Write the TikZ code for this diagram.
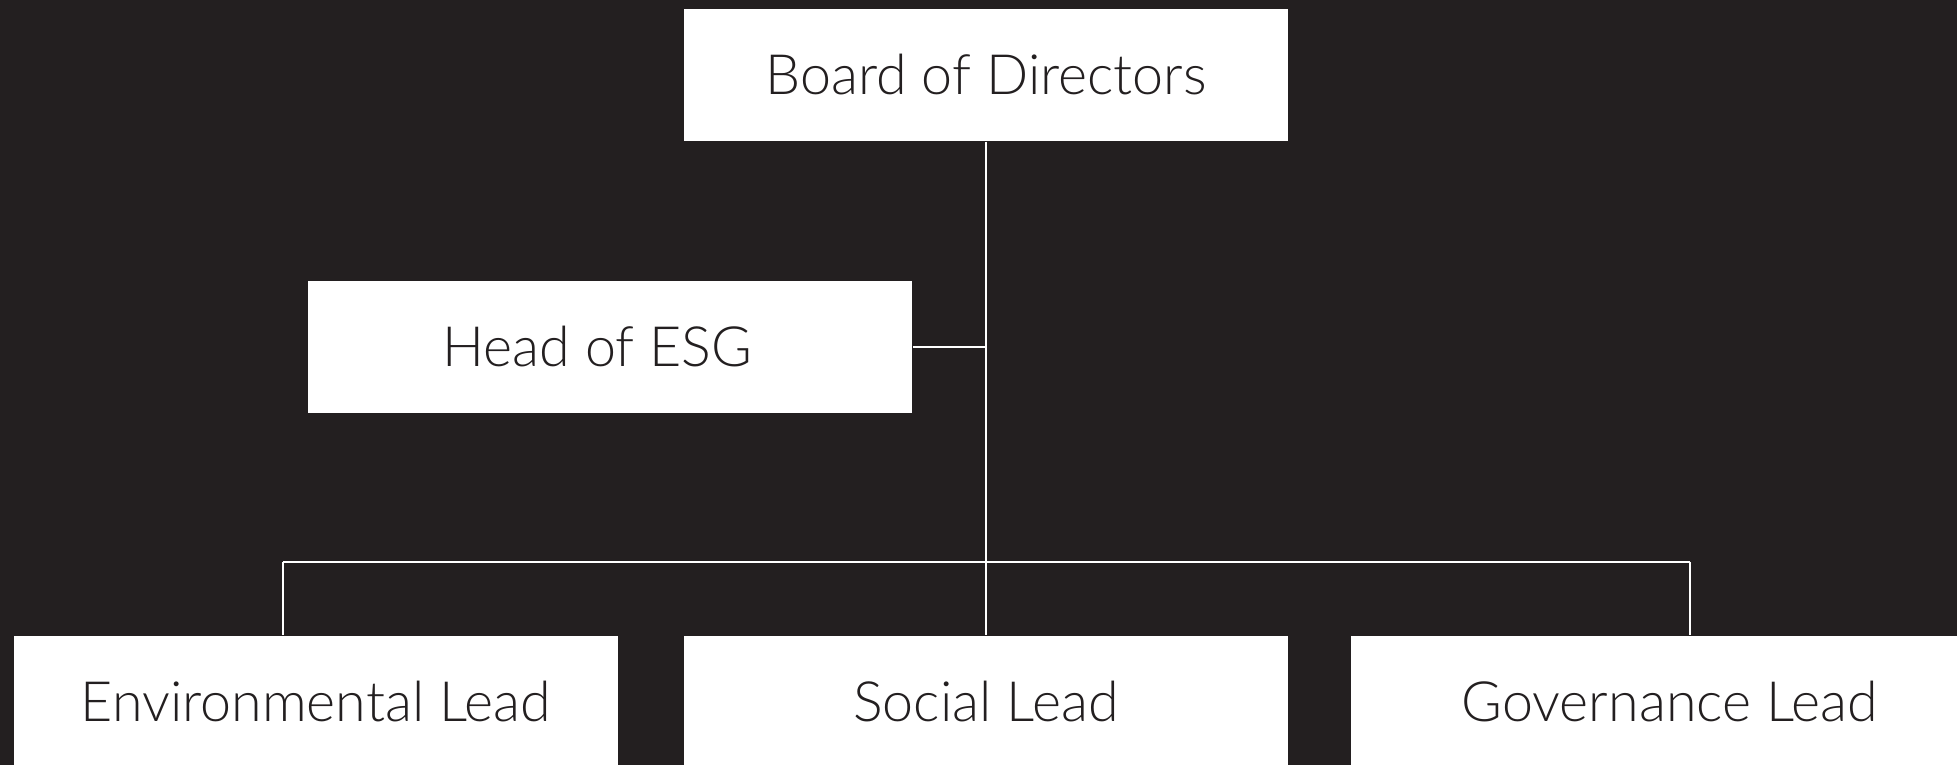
\documentclass[tikz,border=0pt]{standalone}
\usepackage{fontspec}
\setmainfont{Lato}[UprightFont=* Light]
\definecolor{bg}{HTML}{231F20}
\tikzset{box/.style={fill=white,text=bg,minimum width=6.04cm,minimum height=1.32cm,inner sep=0pt,font=\fontsize{15.8}{18}\selectfont},
link/.style={white,line width=0.6pt}}
\begin{document}
\begin{tikzpicture}[x=0.01cm,y=-0.01cm]
\fill[bg](0,0)rectangle(1957,765);
\useasboundingbox(0,0)rectangle(1957,765);
\clip(0,0)rectangle(1957,765);
\node[box](board)at(986,75){Board of Directors};
\node[box](head)at(610,347){Head of ESG\rule{0.25cm}{0pt}};
\node[box](env)at(316,702){Environmental Lead};
\node[box](soc)at(986,702){Social Lead};
\node[box,minimum width=6.38cm](gov)at(1670,702){Governance Lead};
\coordinate(hub)at(985,347);
\coordinate(left)at(283,562);
\coordinate(right)at(1690,562);
\draw[link](board.south)--(soc.north);
\draw[link](head.east)--(hub);
\draw[link](left)--(right);
\draw[link](left)--(left|-env.north);
\draw[link](right)--(right|-gov.north);
\end{tikzpicture}
\end{document}
